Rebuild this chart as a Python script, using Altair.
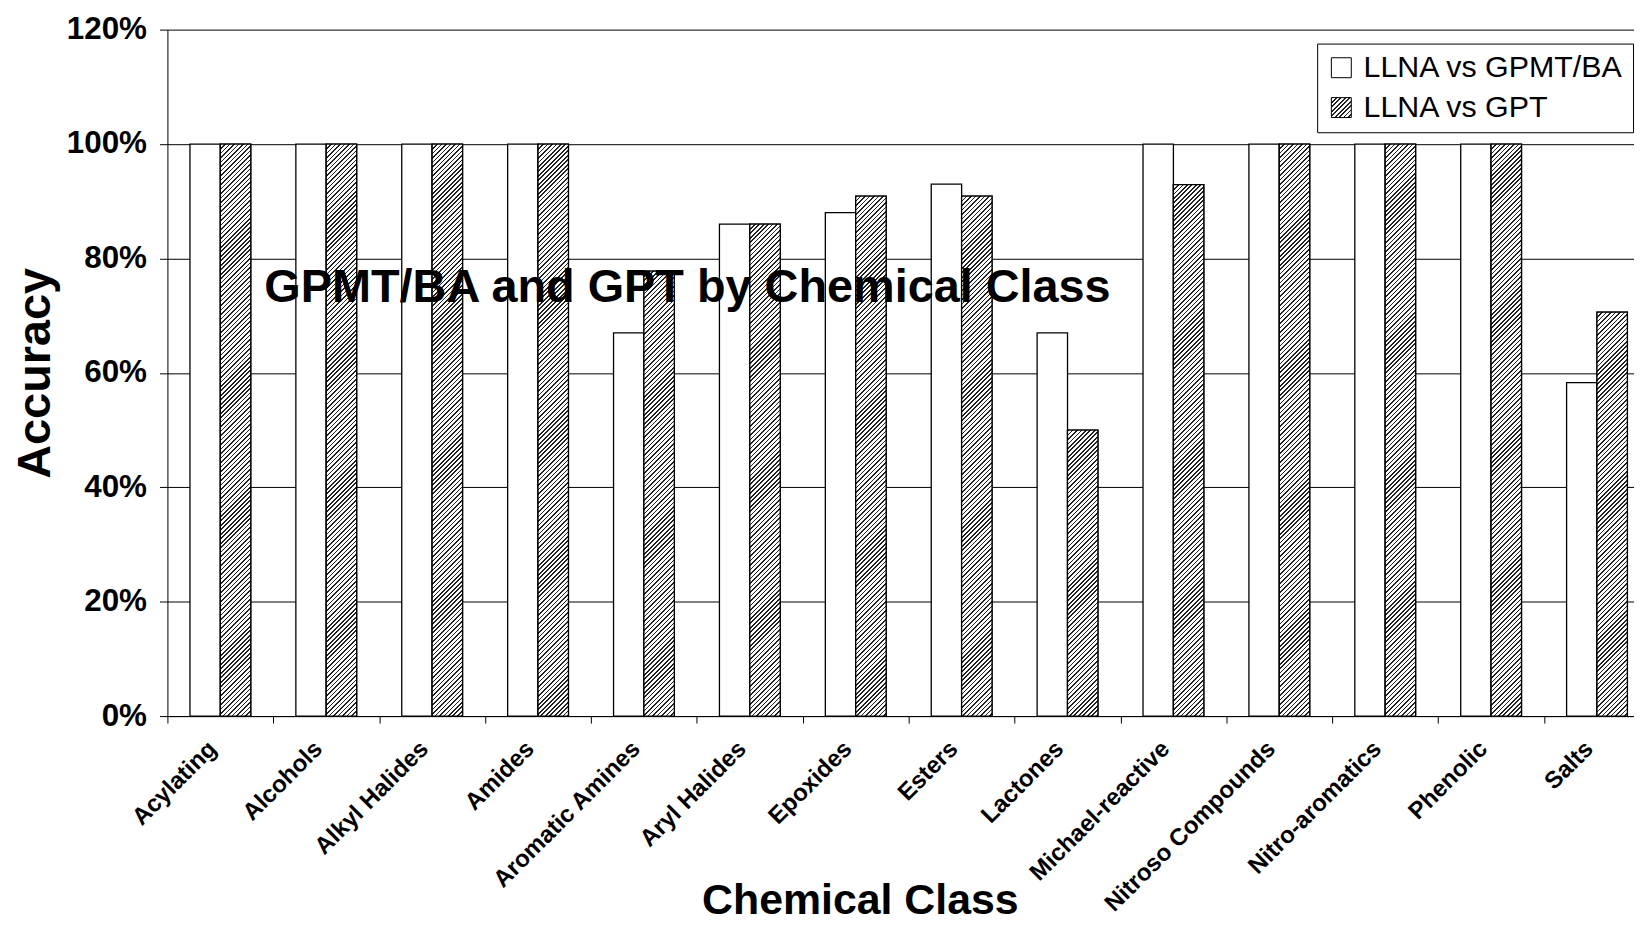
import altair as alt
import pandas as pd

categories = ["Acylating", "Alcohols", "Alkyl Halides", "Amides", "Aromatic Amines",
              "Aryl Halides", "Epoxides", "Esters", "Lactones", "Michael-reactive",
              "Nitroso Compounds", "Nitro-aromatics", "Phenolic", "Salts"]
series_names = ["LLNA vs GPMT/BA", "LLNA vs GPT"]
llna_vs_gpmt_ba = [1.0, 1.0, 1.0, 1.0, 0.67, 0.86, 0.88, 0.93, 0.67, 1.0, 1.0, 1.0, 1.0, 0.583]
llna_vs_gpt = [1.0, 1.0, 1.0, 1.0, 0.778, 0.86, 0.909, 0.909, 0.50, 0.929, 1.0, 1.0, 1.0, 0.706]
y_ticks = [0, 0.2, 0.4, 0.6, 0.8, 1.0, 1.2]
overlay_text = ["GPMT/BA and GPT by Chemical Class"]
overlay_y = [0.723]

rows = []
for i, c in enumerate(categories):
    rows.append({"cls": c, "series": series_names[0], "acc": llna_vs_gpmt_ba[i]})
    rows.append({"cls": c, "series": series_names[1], "acc": llna_vs_gpt[i]})
df = pd.DataFrame(rows)
txt_df = pd.DataFrame({"label": overlay_text, "y": overlay_y})

FONT = "Liberation Sans"

# hatch texture (diagonal stripes) as gradient stops
N = 140
L = 630.0
DARK = 0.36
stops = []
for k in range(N):
    a = round(k / N, 6)
    b = round((k + DARK) / N, 6)
    c = round((k + 1) / N, 6)
    stops += [{"offset": a, "color": "#222222"}, {"offset": b, "color": "#222222"},
              {"offset": b, "color": "#ffffff"}, {"offset": c, "color": "#ffffff"}]
hatch = alt.param(name="hatchStops", value=stops)

legend_grad = ("{gradient: 'linear', x1: 0, y1: 0, x2: %f, y2: %f, stops: hatchStops}"
               % (20 * L / 800, 20 * L / 800))
W = "bandwidth('xOffset')"
H = "(scale('y', 0) - scale('y', datum.acc))"
bar_grad = ("{gradient: 'linear', x1: 0, y1: 0, "
            "x2: %s * %f / (%s * %s + %s * %s), "
            "y2: %s * %f / (%s * %s + %s * %s), stops: hatchStops}"
            % (W, L, W, W, H, H, H, L, W, W, H, H))

x_enc = alt.X("cls:N", sort=categories,
              scale=alt.Scale(range=[0, 1488], paddingInner=0, paddingOuter=0),
              axis=alt.Axis(title="Chemical Class", labelAngle=-45, labelAlign="right",
                            labelBaseline="middle", labelFont=FONT, labelFontWeight="bold",
                            labelFontSize=24, labelColor="black", labelPadding=22,
                            labelOffset=-8, labelLimit=0, tickBand="extent", tickSize=7,
                            tickColor="black", domainColor="black", titleFont=FONT,
                            titleFontSize=43, titleFontWeight="bold", titleColor="black",
                            titleX=695, titleY=198, titleAlign="center",
                            titleBaseline="alphabetic", labelOverlap=False))
xoff_enc = alt.XOffset("series:N", scale=alt.Scale(domain=series_names, paddingInner=0,
                                                   paddingOuter=0.742))
y_enc = alt.Y("acc:Q", stack=None,
              scale=alt.Scale(domain=[0, 1.2], nice=False, zero=True),
              axis=alt.Axis(values=y_ticks, format="%", title="Accuracy",
                            labelFont=FONT, labelFontWeight="bold", labelFontSize=31.5,
                            labelColor="black", labelPadding=13, tickSize=8,
                            tickColor="black", domainColor="black", gridColor="black",
                            gridWidth=1, titleFont=FONT, titleFontSize=47,
                            titleFontWeight="bold", titleColor="black", titleX=-118,
                            titleY=344.5, titleAngle=-90, titleAlign="center",
                            titleBaseline="alphabetic"))

base_bars = alt.Chart(df).mark_bar(stroke="black", strokeWidth=1.3).encode(
    x=x_enc, xOffset=xoff_enc, y=y_enc,
    fill=alt.Fill("series:N",
                  scale=alt.Scale(domain=series_names,
                                  range=["white", alt.ExprRef(expr=legend_grad)]),
                  legend=alt.Legend(title=None, orient="none", legendX=1154, legendY=14,
                                    padding=9, strokeColor="black", fillColor="white",
                                    labelFont=FONT, labelFontSize=30.5, labelColor="black",
                                    labelLimit=0, symbolType="square", symbolSize=400,
                                    symbolStrokeColor="black", symbolStrokeWidth=1,
                                    labelOffset=7, rowPadding=9, cornerRadius=0)),
)

hatched = alt.Chart(df).transform_filter(
    alt.datum.series == series_names[1]
).mark_bar(stroke="black", strokeWidth=1.3, fill=alt.ExprRef(expr=bar_grad)).encode(
    x=alt.X("cls:N", sort=categories), xOffset=alt.XOffset("series:N"),
    y=alt.Y("acc:Q", stack=None),
)

overlay = alt.Chart(txt_df).mark_text(
    font=FONT, fontSize=47, fontWeight="bold", color="black", align="center",
    baseline="alphabetic"
).encode(x=alt.value(522), y=alt.Y("y:Q"), text="label:N")

chart = alt.layer(base_bars, hatched, overlay).add_params(hatch).properties(
    width=1472, height=689,
    autosize=alt.AutoSizeParams(type="none"),
    padding={"left": 160, "top": 20, "right": 0, "bottom": 210},
    background="white",
).configure_view(stroke=None)

chart.save("out.html", embed_options={"renderer": "svg", "actions": False})
